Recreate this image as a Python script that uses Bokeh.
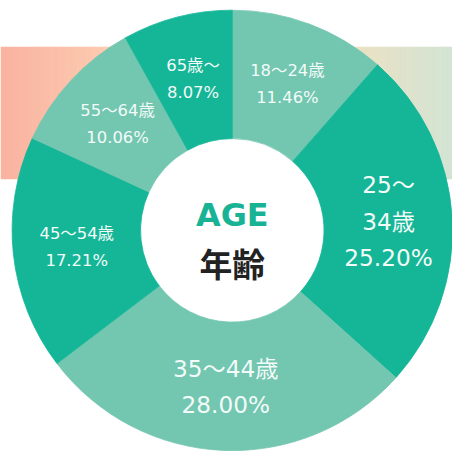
import numpy as np
from bokeh.plotting import figure
from bokeh.models import Range1d
from bokeh.core.properties import value
from bokeh.embed import file_html
from bokeh.resources import INLINE

# ---- data ----
age_groups = ["18～24歳", "25～34歳", "35～44歳", "45～54歳", "55～64歳", "65歳～"]
shares = [11.46, 25.20, 28.00, 17.21, 10.06, 8.07]
share_labels = ["11.46%", "25.20%", "28.00%", "17.21%", "10.06%", "8.07%"]
name_lines = [["18～24歳"], ["25～", "34歳"], ["35～44歳"], ["45～54歳"], ["55～64歳"], ["65歳～"]]
center_title = "AGE"
center_subtitle = "年齢"

# ---- style ----
DARK = "#14b697"
LIGHT = "#73c6b0"
slice_colors = [LIGHT, DARK, LIGHT, DARK, LIGHT, DARK]
H = 468
PX = 452
S = PX / H  # pixel scale of the figure relative to the reference
cx, cy = 240, H - 238
R_OUT, R_IN = 228, 95
R_LABEL = 162
FONT = value("'DejaVu Sans', 'Noto Sans CJK JP'")
CJK = value("'Noto Sans CJK JP'")

def fs(px):
    return "%.1fpx" % (px * S)

p = figure(width=PX, height=PX, x_range=Range1d(0, H), y_range=Range1d(0, H),
           output_backend="svg", toolbar_location=None, min_border=0,
           x_axis_location=None, y_axis_location=None)
p.grid.visible = False
p.outline_line_color = None
p.background_fill_color = "white"
p.border_fill_color = "white"

# background gradient bands
def band(x0, x1, c0, c1, n=30):
    c0 = np.array([int(c0[i:i + 2], 16) for i in (1, 3, 5)], float)
    c1 = np.array([int(c1[i:i + 2], 16) for i in (1, 3, 5)], float)
    edges = np.linspace(x0, x1, n + 1)
    cols = []
    for t in np.linspace(0, 1, n):
        c = c0 + (c1 - c0) * t
        cols.append("#%02x%02x%02x" % tuple(int(round(v)) for v in c))
    p.quad(left=edges[:-1], right=edges[1:] + 0.6, top=H - 48, bottom=H - 185,
           fill_color=cols, line_color=None)

band(0, 140, "#f9b3a0", "#fdd0b4")
band(340, 468, "#f1e0be", "#d3e4d4")

# donut
fr = np.array(shares) / sum(shares)
cum = np.concatenate([[0], np.cumsum(fr)])
start = np.pi / 2 - 2 * np.pi * cum[:-1]
end = np.pi / 2 - 2 * np.pi * cum[1:]
p.annular_wedge(x=cx, y=cy, inner_radius=R_IN, outer_radius=R_OUT,
                start_angle=start, end_angle=end, direction="clock",
                fill_color=slice_colors, line_color=slice_colors, line_width=0.8)

# labels
xs, ys, txt, sizes = [], [], [], []
for i in range(len(shares)):
    theta = 2 * np.pi * (cum[i] + cum[i + 1]) / 2
    bx = cx + R_LABEL * np.sin(theta)
    by = cy + R_LABEL * np.cos(theta)
    big = shares[i] >= 20
    gap = 37.5 if big else 28
    lines = name_lines[i] + [share_labels[i]]
    n = len(lines)
    for j, t in enumerate(lines):
        xs.append(bx)
        ys.append(by - (j - (n - 1) / 2) * gap)
        txt.append(t)
        sizes.append(fs(24) if big else fs(17))
p.text(x=xs, y=ys, text=txt, text_font=FONT, text_font_size=sizes,
       text_color="#f2fbf8", text_align="center", text_baseline="middle")

p.text(x=[cx], y=[H - 222], text=[center_title], text_font=FONT, text_font_size=fs(33),
       text_font_style="bold", text_color="#17b394", text_align="center", text_baseline="middle")
p.text(x=[cx], y=[H - 271], text=[center_subtitle], text_font=CJK, text_font_size=fs(34),
       text_font_style="bold", text_color="#222222", text_align="center", text_baseline="middle")

open("out.html", "w").write(file_html(p, INLINE))
